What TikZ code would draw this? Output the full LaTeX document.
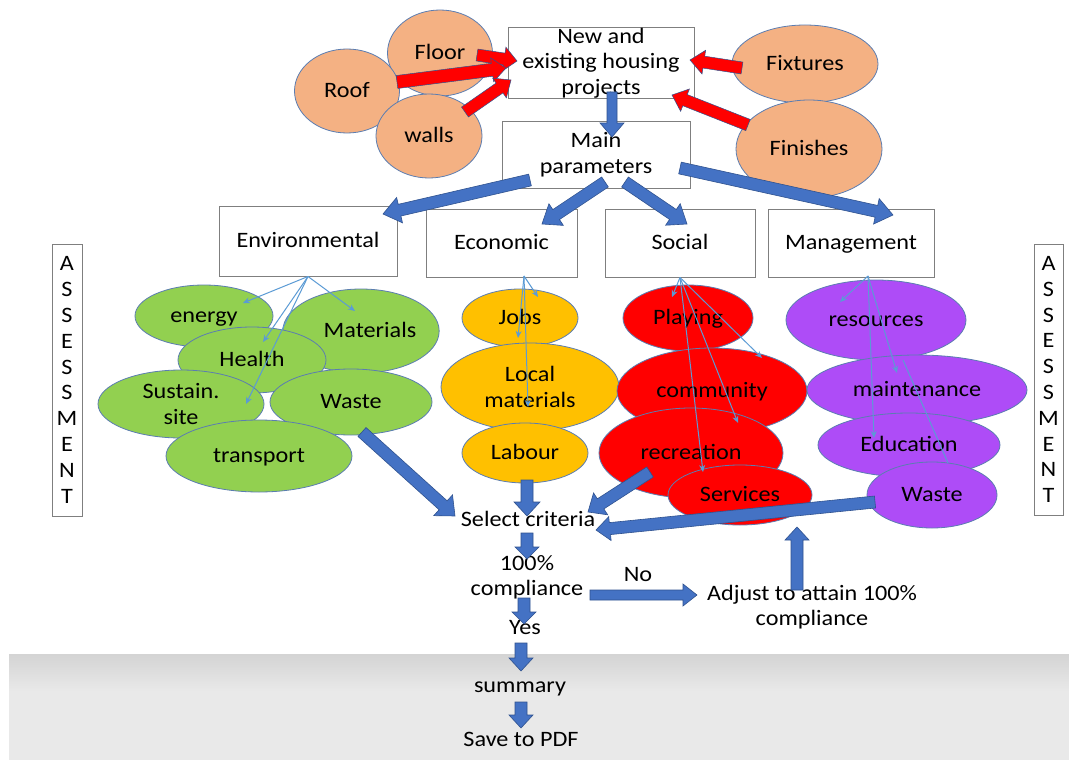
\documentclass[tikz,border=0pt]{standalone}
\usepackage{fontspec}
\setmainfont{Carlito}[FakeStretch=1.1]
\usetikzlibrary{calc,shapes.geometric,arrows.meta}

\definecolor{peach}{HTML}{F4B183}
\definecolor{leaf}{HTML}{92D050}
\definecolor{amber}{HTML}{FFC000}
\definecolor{scarlet}{HTML}{FF0000}
\definecolor{lilac}{HTML}{AE4CF7}
\definecolor{rim}{HTML}{5B7DB1}
\definecolor{flow}{HTML}{4472C4}
\definecolor{flowrim}{HTML}{2F528F}
\definecolor{linkblue}{HTML}{5B9BD5}
\definecolor{boxrim}{HTML}{7F7F7F}

% block arrow: style, from, to, shaft half width, head half width, head length
\newcommand\blockarrow[6]{%
  \coordinate (bah) at ($(#3)!#6!(#2)$);
  \filldraw[#1] ($(#2)!#4!90:(#3)$) -- ($(bah)!#4!90:(#3)$) -- ($(bah)!#5!90:(#3)$)
    -- (#3) -- ($(bah)!#5!-90:(#3)$) -- ($(bah)!#4!-90:(#3)$) -- ($(#2)!#4!-90:(#3)$) -- cycle;
}

\begin{document}
\begin{tikzpicture}[x=1pt,y=-1pt,
  every node/.style={font=\fontsize{22}{25.5}\selectfont, text=black, text height=16pt, text depth=3pt},
  multi/.style={text height={}, text depth={}},
  card/.style={rectangle, draw=boxrim, line width=1pt, fill=white, inner sep=0pt, align=center},
  blob/.style={ellipse, draw=rim, line width=0.8pt, inner sep=0pt, align=center},
  wh/.style 2 args={minimum width=#1pt, minimum height=#2pt},
  txt/.style={inner sep=1pt, align=center},
  redarrow/.style={fill=scarlet, draw=flowrim, line width=0.5pt},
  bluearrow/.style={fill=flow, draw=flowrim, line width=0.6pt},
  ray/.style={draw=linkblue, line width=1pt, -{Stealth[length=7pt,width=6pt]}},
  rayplain/.style={draw=linkblue, line width=1pt}]

\useasboundingbox (0,0) rectangle (1069,760);
\fill[white] (0,0) rectangle (1069,760);
% grey footer band
\shade[top color=gray!34, bottom color=gray!17] (9,654) rectangle (1069,692);
\fill[gray!17] (9,692) rectangle (1069,760);

% building elements
\node[blob, fill=peach, wh={105}{86}] (floor) at (440,53) {Floor};
\node[blob, fill=peach, wh={105}{84}] (roof) at (347,91) {Roof};
\node[blob, fill=peach, wh={106}{84}] (walls) at (429,136) {walls};
\node[blob, fill=peach, wh={146}{78}] (fixtures) at (805,64) {Fixtures};
\node[blob, fill=peach, wh={146}{98}] (finishes) at (809,149) {Finishes};

% main boxes
\node[card, multi, wh={186}{70}] (housing) at (601,63) {New and\\existing housing\\projects};
\node[card, multi, wh={188}{67}] (main) at (596,154.5) {Main\\parameters};

% red arrows into the housing box
\coordinate (rf1) at (477,55);  \coordinate (rf2) at (517,61);
\coordinate (rr1) at (397,82);  \coordinate (rr2) at (506,68);
\coordinate (rw1) at (465,112); \coordinate (rw2) at (511,80);
\coordinate (rx1) at (742,68);  \coordinate (rx2) at (690,60);
\coordinate (rn1) at (748,125); \coordinate (rn2) at (672,95);
\blockarrow{redarrow}{rf1}{rf2}{6pt}{12pt}{13pt}
\blockarrow{redarrow}{rr1}{rr2}{6.5pt}{12pt}{14pt}
\blockarrow{redarrow}{rw1}{rw2}{6pt}{12pt}{14pt}
\blockarrow{redarrow}{rx1}{rx2}{6pt}{12pt}{14pt}
\blockarrow{redarrow}{rn1}{rn2}{6pt}{12pt}{14pt}

% category boxes
\node[card, wh={178}{70}] (env) at (308,241) {Environmental};
\node[card, wh={151}{68}] (eco) at (501.5,243) {Economic};
\node[card, wh={150}{68}] (soc) at (680,243) {Social};
\node[card, wh={166}{68}] (mgt) at (851,243) {Management};

% blue arrows from the main parameters
\coordinate (bh1) at (612,92);  \coordinate (bh2) at (612,137);
\coordinate (be1) at (530,180); \coordinate (be2) at (383,214);
\coordinate (bc1) at (605,182); \coordinate (bc2) at (542,224);
\coordinate (bs1) at (625,182); \coordinate (bs2) at (687,224);
\coordinate (bm1) at (680,168); \coordinate (bm2) at (893,215);
\blockarrow{bluearrow}{bh1}{bh2}{5pt}{12pt}{14pt}
\blockarrow{bluearrow}{be1}{be2}{6pt}{13pt}{17pt}
\blockarrow{bluearrow}{bc1}{bc2}{6pt}{13pt}{17pt}
\blockarrow{bluearrow}{bs1}{bs2}{6pt}{13pt}{17pt}
\blockarrow{bluearrow}{bm1}{bm2}{6pt}{13pt}{17pt}

% assessment side bars
\node[card, multi, wh={30}{272}, font=\fontsize{22}{25.8}\selectfont] (asl) at (67,380) {A\\S\\S\\E\\S\\S\\M\\E\\N\\T};
\node[card, multi, wh={29}{271}, font=\fontsize{22}{25.8}\selectfont] (asr) at (1048.5,379.5) {A\\S\\S\\E\\S\\S\\M\\E\\N\\T};

% environmental criteria
\node[blob, fill=leaf, wh={138}{62}] (energy) at (204,316) {energy};
\node[blob, fill=leaf, wh={144}{84}] (materials) at (361,331) {\hspace*{18pt}Materials};
\node[blob, fill=leaf, wh={148}{66}] (health) at (252,360) {Health};
\node[blob, multi, fill=leaf, wh={166}{68}] (sustain) at (181,404) {Sustain.\\site};
\node[blob, fill=leaf, wh={162}{66}] (gwaste) at (351,402) {Waste};
\node[blob, fill=leaf, wh={186}{72}] (transport) at (259,456) {transport};

% economic criteria
\node[blob, fill=amber, wh={116}{58}] (jobs) at (520,318) {Jobs};
\node[blob, multi, fill=amber, wh={178}{88}] (localm) at (530,387) {Local\\materials};
\node[blob, fill=amber, wh={126}{60}] (labour) at (525,453) {Labour};

% social criteria
\node[blob, fill=scarlet, wh={130}{66}] (playing) at (688,318) {Playing};
\node[blob, fill=scarlet, wh={190}{86}] (community) at (712,391) {community};
\node[blob, fill=scarlet, wh={184}{90}] (recreation) at (691,453) {recreation};
\node[blob, fill=scarlet, wh={144}{60}] (services) at (740,495) {Services};

% management criteria
\node[blob, fill=lilac, wh={180}{80}] (resources) at (876,320) {resources};
\node[blob, fill=lilac, wh={220}{70}] (maintenance) at (917,390) {maintenance};
\node[blob, fill=lilac, wh={182}{64}] (education) at (909,445) {Education};
\node[blob, fill=lilac, wh={130}{66}] (mwaste) at (932,495) {Waste};

% thin links from the categories
\coordinate (ecoo) at (524,276);
\coordinate (mgto) at (868,276);
\coordinate (te1) at (243,303); \coordinate (te2) at (355,311);
\coordinate (te3) at (263,342); \coordinate (te4) at (246,404);
\draw[ray] (env.south) -- (te1);
\draw[ray] (env.south) -- (te2);
\draw[ray] (env.south) -- (te3);
\draw[ray] (env.south) -- (te4);
\coordinate (tc1) at (538,297); \coordinate (tc2) at (518,338); \coordinate (tc3) at (528,407);
\draw[ray] (ecoo) -- (tc1);
\draw[ray] (ecoo) -- (tc2);
\draw[ray] (ecoo) -- (tc3);
\coordinate (ts1) at (672,297); \coordinate (ts2) at (762,358);
\coordinate (ts3) at (738,423); \coordinate (ts4) at (703,472);
\draw[ray] (soc.south) -- (ts1);
\draw[ray] (soc.south) -- (ts2);
\draw[ray] (soc.south) -- (ts3);
\draw[ray] (soc.south) -- (ts4);
\coordinate (tm1) at (840,302); \coordinate (tm2) at (897,373); \coordinate (tm3) at (874,438);
\coordinate (tm4a) at (903,360); \coordinate (tm4b) at (948,463);
\draw[ray] (mgto) -- (tm1);
\draw[ray] (mgto) -- (tm2);
\draw[ray] (mgto) -- (tm3);
\draw[rayplain] (tm4a) -- (tm4b);

% decision flow
\node[txt] (sel) at (528,520) {Select criteria};
\node[txt, multi] (comp) at (527,577.5) {100\%\\compliance};
\node[txt] (no) at (638,575) {No};
\node[txt, multi] (adj) at (812,607) {Adjust to attain 100\%\\compliance};
\node[txt] (yes) at (525,628) {Yes};
\node[txt] (summ) at (520,686) {summary};
\node[txt] (pdf) at (521,740) {Save to PDF};

\coordinate (fg1) at (362,432); \coordinate (fg2) at (455,516);
\coordinate (fl1) at (527,480); \coordinate (fl2) at (527,516);
\coordinate (fr1) at (650,472); \coordinate (fr2) at (588,512);
\coordinate (fp1) at (875,502); \coordinate (fp2) at (596,530);
\coordinate (fs1) at (527,533); \coordinate (fs2) at (527,559);
\coordinate (fa1) at (590,595); \coordinate (fa2) at (697,595);
\coordinate (fu1) at (797,590); \coordinate (fu2) at (797,527);
\coordinate (fy1) at (524,598); \coordinate (fy2) at (524,624);
\coordinate (fm1) at (521,643); \coordinate (fm2) at (521,671);
\coordinate (fd1) at (521,702); \coordinate (fd2) at (521,728);
\blockarrow{bluearrow}{fg1}{fg2}{6pt}{14pt}{16pt}
\blockarrow{bluearrow}{fl1}{fl2}{6pt}{13pt}{14pt}
\blockarrow{bluearrow}{fr1}{fr2}{6pt}{13pt}{15pt}
\blockarrow{bluearrow}{fp1}{fp2}{6pt}{12pt}{14pt}
\blockarrow{bluearrow}{fs1}{fs2}{6pt}{12pt}{12pt}
\blockarrow{bluearrow}{fa1}{fa2}{5pt}{11pt}{14pt}
\blockarrow{bluearrow}{fu1}{fu2}{6pt}{12pt}{13pt}
\blockarrow{bluearrow}{fy1}{fy2}{6pt}{12pt}{12pt}
\blockarrow{bluearrow}{fm1}{fm2}{6pt}{12pt}{13pt}
\blockarrow{bluearrow}{fd1}{fd2}{6pt}{12pt}{13pt}
\end{tikzpicture}
\end{document}
